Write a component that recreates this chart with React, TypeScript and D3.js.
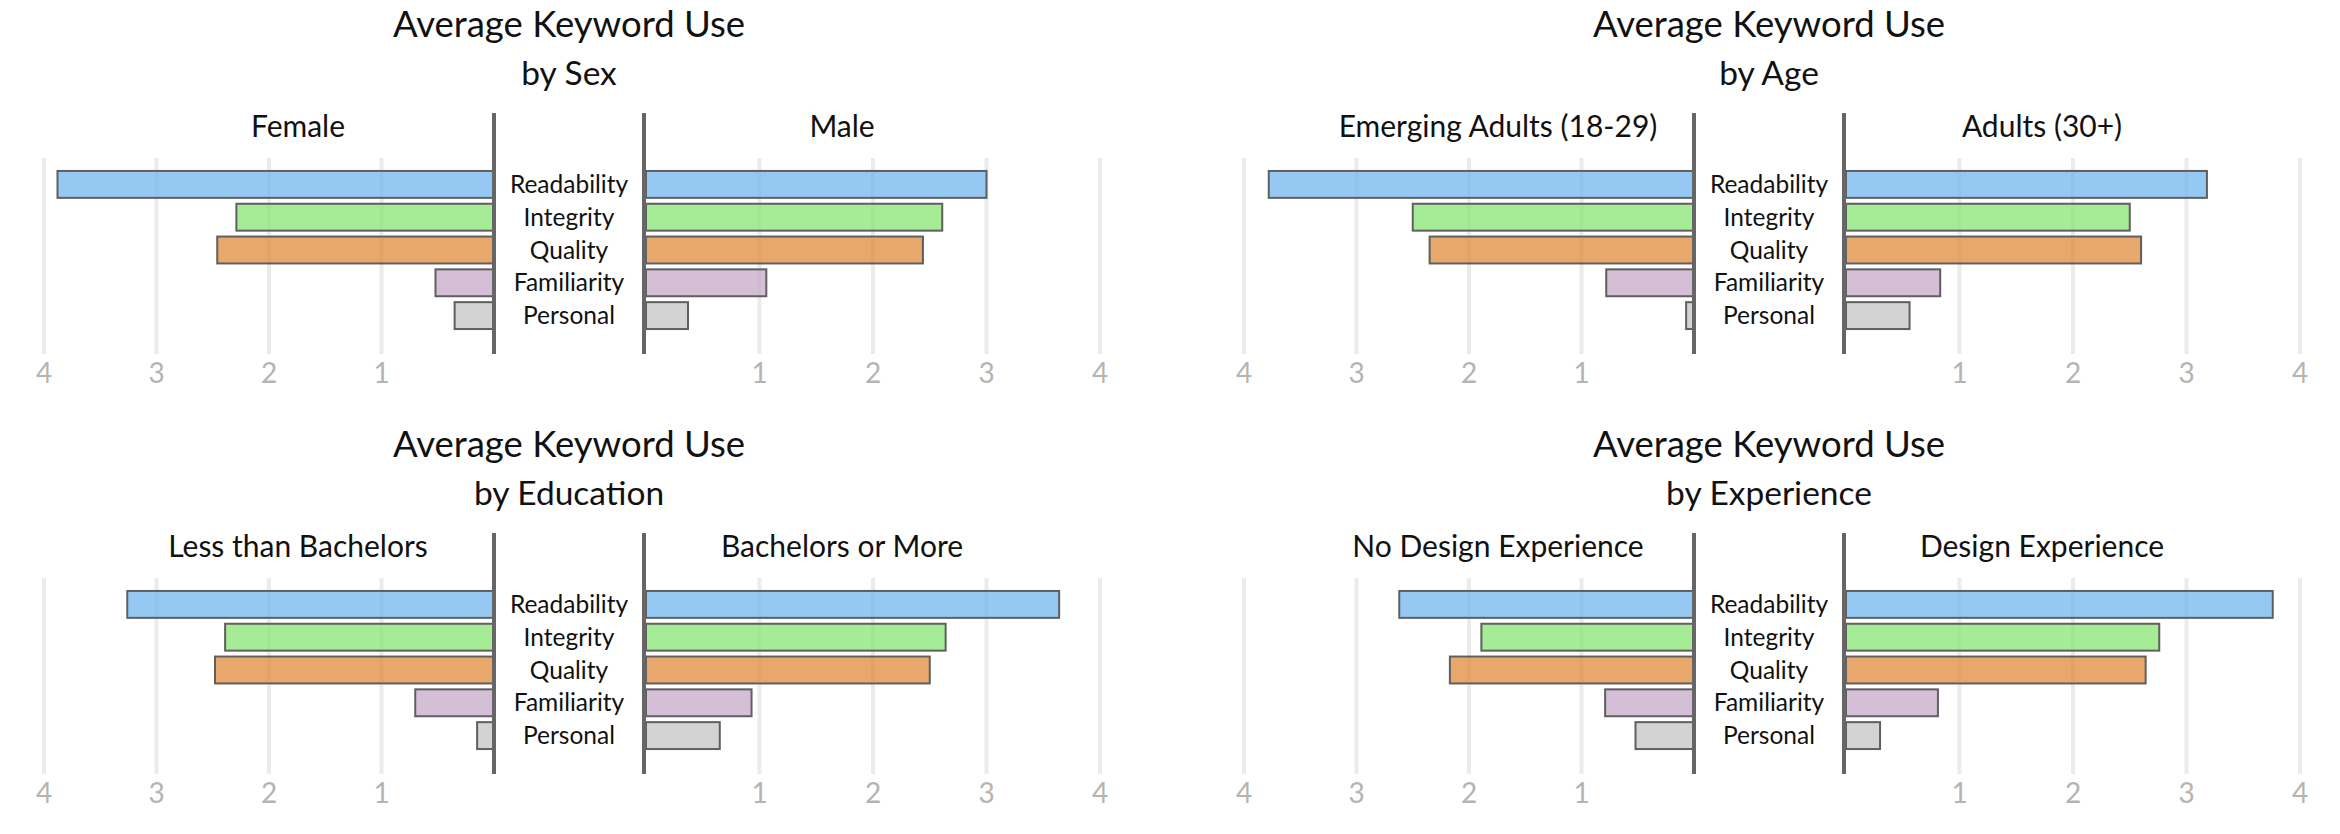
import * as d3 from 'd3'

const categories = ['Readability', 'Integrity', 'Quality', 'Familiarity', 'Personal']
const barColors = ['#72b7f0', '#88e473', '#e08a3a', '#c6aaca', '#c4c4c4']
const ticks = [1, 2, 3, 4]

const sexFemale = [3.88, 2.29, 2.46, 0.52, 0.35]
const sexMale = [3.0, 2.61, 2.44, 1.06, 0.37]
const ageEmerging = [3.78, 2.5, 2.35, 0.78, 0.07]
const ageAdults = [3.18, 2.5, 2.6, 0.83, 0.56]
const eduLess = [3.26, 2.39, 2.48, 0.7, 0.15]
const eduMore = [3.64, 2.64, 2.5, 0.93, 0.65]
const expNone = [2.62, 1.89, 2.17, 0.79, 0.52]
const expDesign = [3.76, 2.76, 2.64, 0.81, 0.3]

const panels = [
  { subtitle: 'by Sex', left: 'Female', right: 'Male', leftValues: sexFemale, rightValues: sexMale },
  { subtitle: 'by Age', left: 'Emerging Adults (18-29)', right: 'Adults (30+)', leftValues: ageEmerging, rightValues: ageAdults },
  { subtitle: 'by Education', left: 'Less than Bachelors', right: 'Bachelors or More', leftValues: eduLess, rightValues: eduMore },
  { subtitle: 'by Experience', left: 'No Design Experience', right: 'Design Experience', leftValues: expNone, rightValues: expDesign },
]

const font = 'Lato, "Noto Sans", sans-serif'

type Panel = (typeof panels)[number]

function PyramidPanel({ panel, dx, dy }: { panel: Panel; dx: number; dy: number }) {
  const leftZero = 494
  const rightZero = 646
  const center = 569
  const xLeft = d3.scaleLinear().domain([0, 4]).range([leftZero, 44])
  const xRight = d3.scaleLinear().domain([0, 4]).range([rightZero, 1100])
  const y = d3
    .scaleBand<string>()
    .domain(categories)
    .range([168, 332])
    .paddingInner(0.18)
    .paddingOuter(0.09)
  const color = d3.scaleOrdinal<string, string>().domain(categories).range(barColors)

  return (
    <g transform={`translate(${dx},${dy})`}>
      <text x={center} y={37} textAnchor="middle" fontSize="36.5" fill="#111">
        Average Keyword Use
      </text>
      <text x={center} y={85} textAnchor="middle" fontSize="33.5" fill="#111">
        {panel.subtitle}
      </text>
      <text x={center - 271} y={137} textAnchor="middle" fontSize="30" fill="#111">
        {panel.left}
      </text>
      <text x={center + 273} y={137} textAnchor="middle" fontSize="30" fill="#111">
        {panel.right}
      </text>

      {ticks.map((tick) => (
        <g key={tick}>
          <line x1={xLeft(tick)} x2={xLeft(tick)} y1={158} y2={354} stroke="#ebebeb" strokeWidth="4" />
          <line x1={xRight(tick)} x2={xRight(tick)} y1={158} y2={354} stroke="#ebebeb" strokeWidth="4" />
          <text x={xLeft(tick)} y={383} textAnchor="middle" fontSize="28" fill="#b4b4b4">
            {tick}
          </text>
          <text x={xRight(tick)} y={383} textAnchor="middle" fontSize="28" fill="#b4b4b4">
            {tick}
          </text>
        </g>
      ))}

      {categories.map((cat, i) => {
        const by = y(cat) ?? 0
        const bh = y.bandwidth()
        const lv = panel.leftValues[i]
        const rv = panel.rightValues[i]
        return (
          <g key={cat}>
            <rect
              x={xLeft(lv)}
              y={by}
              width={leftZero - xLeft(lv)}
              height={bh}
              fill={color(cat)}
              fillOpacity="0.75"
              stroke="#5f5f5f"
              strokeWidth="2"
            />
            <rect
              x={rightZero}
              y={by}
              width={xRight(rv) - rightZero}
              height={bh}
              fill={color(cat)}
              fillOpacity="0.75"
              stroke="#5f5f5f"
              strokeWidth="2"
            />
            <text x={center} y={by + bh / 2} dy="0.35em" textAnchor="middle" fontSize="24.5" fill="#111">
              {cat}
            </text>
          </g>
        )
      })}

      <line x1={leftZero} x2={leftZero} y1={113} y2={354} stroke="#666" strokeWidth="4" />
      <line x1={644} x2={644} y1={113} y2={354} stroke="#666" strokeWidth="4" />
    </g>
  )
}

export default function App() {
  return (
    <svg
      width={2340}
      height={834}
      viewBox="0 0 2340 834"
      style={{ position: 'absolute', left: 0, top: 0, background: '#fff' }}
      fontFamily={font}
    >
      {panels.map((panel, i) => (
        <PyramidPanel key={panel.subtitle} panel={panel} dx={(i % 2) * 1200} dy={Math.floor(i / 2) * 420} />
      ))}
    </svg>
  )
}
